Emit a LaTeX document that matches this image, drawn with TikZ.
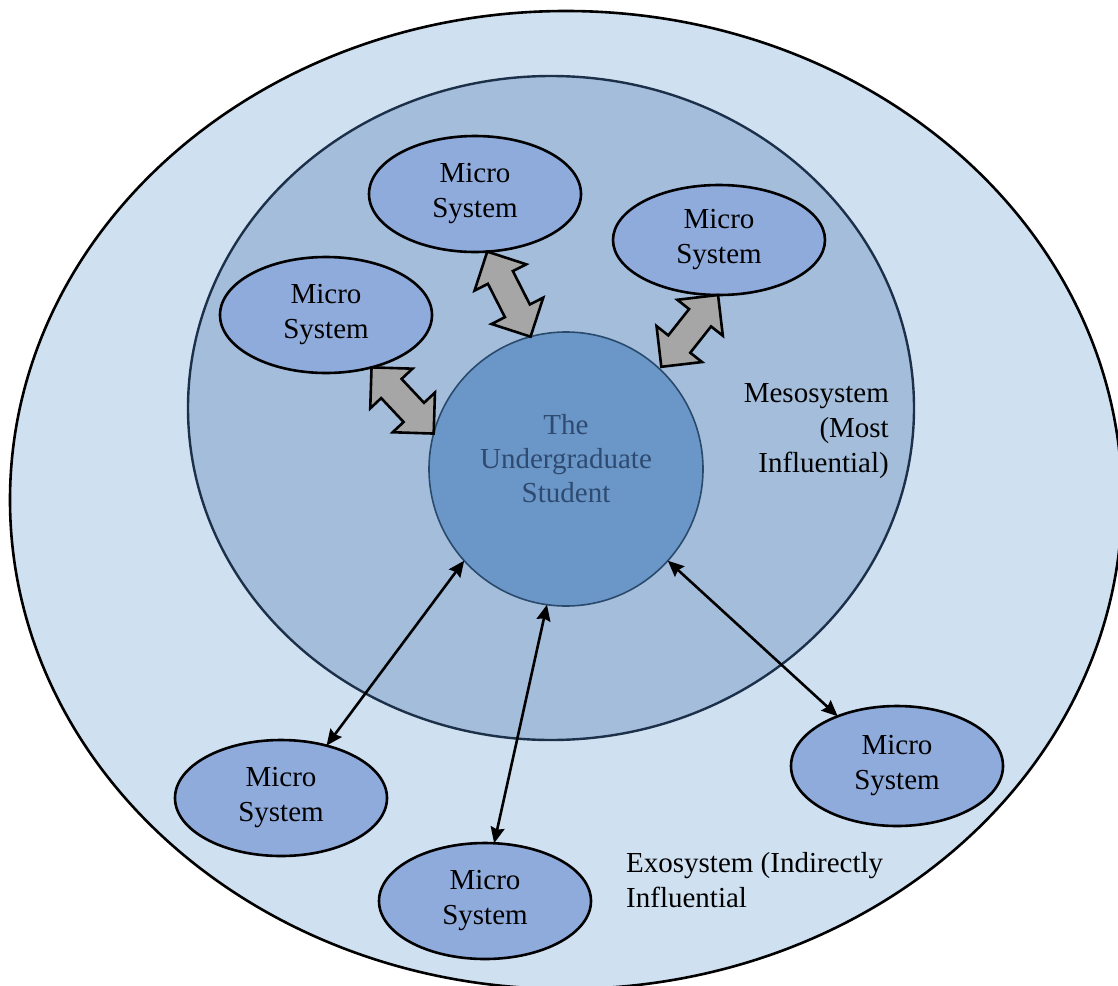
\documentclass[tikz,border=0pt]{standalone}
\usepackage{fontspec}
\setmainfont{Liberation Serif}
\usetikzlibrary{calc,shapes.geometric,arrows.meta}
\definecolor{exofill}{RGB}{207,224,241}
\definecolor{mesofill}{RGB}{163,189,219}
\definecolor{mesoline}{RGB}{28,48,73}
\definecolor{stufill}{RGB}{107,151,200}
\definecolor{stuline}{RGB}{42,74,108}
\definecolor{stutext}{RGB}{46,74,112}
\definecolor{microfill}{RGB}{143,171,220}
\definecolor{arrgray}{RGB}{166,166,166}
\tikzset{
  microbox/.style={ellipse, draw=black, line width=2.6pt, fill=microfill,
    minimum width=212pt, minimum height=116pt, inner sep=0pt, outer sep=0pt,
    align=center, font=\fontsize{29}{35}\selectfont},
  studentbox/.style={circle, draw=stuline, line width=1.6pt, fill=stufill,
    minimum size=274pt, inner sep=0pt, outer sep=0pt},
  studenttext/.style={inner sep=0pt, align=center, text=stutext,
    font=\fontsize{29}{34}\selectfont},
  labeltext/.style={inner sep=0pt, font=\fontsize{29}{35}\selectfont},
  blockarrow/.style={draw=black, fill=arrgray, line width=2.6pt, line join=miter},
  thinarr/.style={line width=2.6pt, {Stealth[length=16pt,width=14pt,inset=2pt]}-{Stealth[length=16pt,width=14pt,inset=2pt]}}
}
\newcommand{\blockarr}[2]{%
  \path ($(#1)!29pt!(#2)$) coordinate (h1) ($(#2)!29pt!(#1)$) coordinate (h2);
  \draw[blockarrow] (#1) -- ($(h1)!29pt!90:(#2)$) -- ($(h1)!14pt!90:(#2)$)
    -- ($(h2)!14pt!-90:(#1)$) -- ($(h2)!29pt!-90:(#1)$) -- (#2)
    -- ($(h2)!29pt!90:(#1)$) -- ($(h2)!14pt!90:(#1)$)
    -- ($(h1)!14pt!-90:(#2)$) -- ($(h1)!29pt!-90:(#2)$) -- cycle;}
\begin{document}
\begin{tikzpicture}[x=1pt,y=-1pt]
\clip (0,0) rectangle (1118,985);
% exosystem
\draw[line width=2.6pt, fill=exofill] (566,500) ellipse [x radius=556pt, y radius=489pt];
% mesosystem
\draw[line width=2.4pt, draw=mesoline, fill=mesofill] (551,408) ellipse [x radius=363pt, y radius=332pt];
% student
\node[studentbox] (st) at (566,469) {};
\node[studenttext] (stt) at (566,459) {The\\Undergraduate\\Student};
% micro systems
\node[microbox] (m1) at (475,194) {Micro\\System};
\node[microbox, minimum height=110pt] (m2) at (719,240) {Micro\\System};
\node[microbox] (m3) at (326,315) {Micro\\System};
\node[microbox] (m4) at (281,798) {Micro\\System};
\node[microbox] (m5) at (485,901) {Micro\\System};
\node[microbox, minimum height=120pt] (m6) at (897,766) {Micro\\System};
% labels
\node[labeltext, anchor=east, align=right] (meso) at (889,431) {Mesosystem\\(Most\\Influential)};
\node[labeltext, anchor=west, align=left] (exo) at (626,880) {Exosystem (Indirectly\\Influential};
% block arrows
\coordinate (a1) at (m1.282);
\coordinate (b1) at (st.105.6);
\blockarr{a1}{b1}
\coordinate (a2) at (m3.311.6);
\coordinate (b2) at (st.165.7);
\blockarr{a2}{b2}
\coordinate (a3) at (m2.269);
\coordinate (b3) at ($(st.center)!1.02!(st.47.9)$);
\blockarr{a3}{b3}
% thin arrows
\draw[thinarr] (st.222.6) -- (m4.49.3);
\draw[thinarr] (st.262.6) -- (m5.81.6);
\draw[thinarr] (st.318.2) -- (m6.140.3);
\end{tikzpicture}
\end{document}
